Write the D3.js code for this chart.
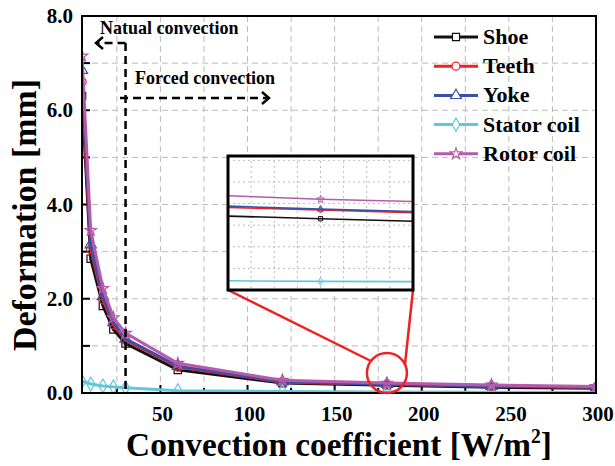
<!DOCTYPE html>
<html>
<head>
<meta charset="utf-8">
<script src="https://cdn.jsdelivr.net/npm/d3@7"></script>
<style>
  body { margin: 0; background: #fff; }
  text { font-family: "Liberation Serif", "Times New Roman", serif; font-weight: bold; }
</style>
</head>
<body>
<div id="chart"></div>
<script>
// convection coefficient [W/m2]
const hValues = [5, 10, 17, 23, 30, 60, 120, 180, 240, 300];
// deformation [mm]
const shoe   = [6.30, 2.85, 1.85, 1.35, 1.05, 0.49, 0.21, 0.165, 0.12, 0.10];
const teeth  = [6.60, 3.05, 1.98, 1.45, 1.12, 0.55, 0.23, 0.185, 0.14, 0.12];
const yoke   = [6.85, 3.15, 2.05, 1.50, 1.15, 0.57, 0.24, 0.187, 0.145, 0.12];
const stator = [0.25, 0.19, 0.15, 0.13, 0.11, 0.05, 0.03, 0.02, 0.015, 0.012];
const rotor  = [7.15, 3.45, 2.22, 1.60, 1.27, 0.63, 0.27, 0.21, 0.17, 0.14];

const seriesNames = ['Shoe', 'Teeth', 'Yoke', 'Stator coil', 'Rotor coil'];
const xTicks = [50, 100, 150, 200, 250, 300];
const yTickLabels = ['0.0', '2.0', '4.0', '6.0', '8.0'];

const series = [
  {name: seriesNames[0], values: shoe,   color: '#111111', symbol: d3.symbolSquare},
  {name: seriesNames[1], values: teeth,  color: '#ee2222', symbol: d3.symbolCircle},
  {name: seriesNames[2], values: yoke,   color: '#3a4fa8', symbol: d3.symbolTriangle},
  {name: seriesNames[3], values: stator, color: '#62c6dc', symbol: d3.symbolDiamond},
  {name: seriesNames[4], values: rotor,  color: '#b85aac', symbol: d3.symbolStar}
];

const W = 615, H = 466;
const svg = d3.select('#chart').append('svg').attr('width', W).attr('height', H);

const mLeft = 82, mRight = 596, mTop = 16, mBottom = 393;
const x = d3.scaleLinear().domain([5, 300]).range([mLeft, mRight]);
const y = d3.scaleLinear().domain([0, 8]).range([mBottom, mTop]);

// squeeze a text horizontally (in its own frame) to a given length
function fitText(sel, target) {
  const w = sel.node().getBBox().width;
  const g = sel.node().parentNode;
  d3.select(g).attr('transform', d3.select(g).attr('transform') + ` scale(${target / w},1)`);
}

// grid
const grid = svg.append('g');
grid.selectAll('.gx').data(d3.range(25, 300, 25)).join('line')
  .attr('x1', d => x(d)).attr('x2', d => x(d)).attr('y1', mTop).attr('y2', mBottom)
  .attr('stroke', '#bbb').attr('stroke-width', 1).attr('stroke-dasharray', '6,4');
grid.selectAll('.gy').data(d3.range(1, 8, 1)).join('line')
  .attr('x1', mLeft).attr('x2', mRight).attr('y1', d => y(d)).attr('y2', d => y(d))
  .attr('stroke', '#bbb').attr('stroke-width', 1).attr('stroke-dasharray', '6,4');

// ticks (inward)
svg.append('g').selectAll('line').data(d3.range(25, 300, 25)).join('line')
  .attr('x1', d => x(d)).attr('x2', d => x(d)).attr('y1', mBottom).attr('y2', d => mBottom - (d % 50 === 0 ? 8 : 5))
  .attr('stroke', '#000').attr('stroke-width', 2);
svg.append('g').selectAll('line').data(d3.range(1, 8, 1)).join('line')
  .attr('x1', mLeft).attr('x2', mLeft + 8).attr('y1', d => y(d)).attr('y2', d => y(d))
  .attr('stroke', '#000').attr('stroke-width', 2);

// tick labels
svg.append('g').selectAll('text').data(xTicks).join('text')
  .attr('x', d => x(d) + 2).attr('y', mBottom + 28)
  .attr('text-anchor', 'middle').attr('font-size', 21).text(d => d);
svg.append('g').selectAll('text').data(yTickLabels).join('text')
  .attr('x', 73).attr('y', d => y(+d) + 7)
  .attr('text-anchor', 'end').attr('font-size', 21).text(d => d);

// axis titles
const yg = svg.append('g').attr('transform', 'translate(36,215) rotate(-90)');
const yt = yg.append('text').attr('text-anchor', 'middle').attr('font-size', 33)
  .text('Deformation [mm]');
fitText(yt, 272);
const xg = svg.append('g').attr('transform', 'translate(339,456)');
const xt = xg.append('text').attr('text-anchor', 'middle').attr('font-size', 34);
xt.append('tspan').text('Convection coefficient [W/m');
xt.append('tspan').attr('dy', -13).attr('font-size', 20).text('2');
xt.append('tspan').attr('dy', 13).text(']');
fitText(xt, 426);

// data lines
const line = d3.line().x((d, i) => x(hValues[i])).y(d => y(d));
const plot = svg.append('g');
plot.append('defs').append('clipPath').attr('id', 'clipMain')
  .append('rect').attr('x', mLeft).attr('y', mTop).attr('width', mRight - mLeft).attr('height', mBottom - mTop);
const pg = plot.append('g').attr('clip-path', 'url(#clipMain)');
series.forEach(s => {
  pg.append('path').datum(s.values).attr('d', line)
    .attr('fill', 'none').attr('stroke', s.color).attr('stroke-width', 3);
  pg.append('g').selectAll('path').data(s.values).join('path')
    .attr('transform', (d, i) => `translate(${x(hValues[i])},${y(d)})`)
    .attr('d', d3.symbol().type(s.symbol).size(s.symbol === d3.symbolStar ? 40 : 55))
    .attr('fill', 'none').attr('stroke', s.color).attr('stroke-width', 1.2);
});

// frame
svg.append('rect').attr('x', mLeft).attr('y', mTop).attr('width', mRight - mLeft).attr('height', mBottom - mTop)
  .attr('fill', 'none').attr('stroke', '#000').attr('stroke-width', 2);

// convection annotations
const xb = x(30);
const dash = '8,5';
svg.append('line').attr('x1', xb).attr('x2', xb).attr('y1', 43).attr('y2', mBottom)
  .attr('stroke', '#000').attr('stroke-width', 2.5).attr('stroke-dasharray', dash);
svg.append('line').attr('x1', xb).attr('x2', 96).attr('y1', 43).attr('y2', 43)
  .attr('stroke', '#000').attr('stroke-width', 2.5).attr('stroke-dasharray', dash);
svg.append('path').attr('d', 'M103,37 L96,43 L103,49')
  .attr('fill', 'none').attr('stroke', '#000').attr('stroke-width', 2.5);
svg.append('line').attr('x1', 120).attr('x2', 269).attr('y1', 98).attr('y2', 98)
  .attr('stroke', '#000').attr('stroke-width', 2.5).attr('stroke-dasharray', dash);
svg.append('path').attr('d', 'M262,92 L269,98 L262,104')
  .attr('fill', 'none').attr('stroke', '#000').attr('stroke-width', 2.5);
svg.append('text').attr('x', 100).attr('y', 34).attr('font-size', 18).text('Natual convection');
svg.append('text').attr('x', 135).attr('y', 84).attr('font-size', 18).text('Forced convection');

// legend
const lg = svg.append('g');
series.forEach((s, i) => {
  const ly = 37 + i * 29.2;
  lg.append('line').attr('x1', 434).attr('x2', 478).attr('y1', ly).attr('y2', ly)
    .attr('stroke', s.color).attr('stroke-width', 3);
  lg.append('path').attr('transform', `translate(456,${ly})`)
    .attr('d', d3.symbol().type(s.symbol).size(s.symbol === d3.symbolStar ? 40 : 50))
    .attr('fill', '#fff').attr('stroke', s.color).attr('stroke-width', 1.2);
  lg.append('text').attr('x', 483).attr('y', ly + 7).attr('font-size', 22).text(s.name);
});

// zoom circle and connectors
const cx = x(180), cy = 373;
svg.append('circle').attr('cx', cx).attr('cy', cy).attr('r', 20)
  .attr('fill', 'none').attr('stroke', '#ee2222').attr('stroke-width', 2.5);
const ix0 = 228, ix1 = 413, iy0 = 156, iy1 = 290;
svg.append('line').attr('x1', ix0).attr('y1', iy1).attr('x2', cx - 16).attr('y2', cy - 12)
  .attr('stroke', '#ee2222').attr('stroke-width', 2.5);
svg.append('line').attr('x1', ix1).attr('y1', iy1).attr('x2', cx + 18).attr('y2', cy - 8)
  .attr('stroke', '#ee2222').attr('stroke-width', 2.5);

// inset
const xi = d3.scaleLinear().domain([172, 188]).range([ix0, ix1]);
const yi = d3.scaleLinear().domain([0, 0.31]).range([iy1, iy0]);
const inset = svg.append('g');
inset.append('rect').attr('x', ix0).attr('y', iy0).attr('width', ix1 - ix0).attr('height', iy1 - iy0)
  .attr('fill', '#fff');
inset.append('defs').append('clipPath').attr('id', 'clipInset')
  .append('rect').attr('x', ix0).attr('y', iy0).attr('width', ix1 - ix0).attr('height', iy1 - iy0);
const ig = inset.append('g').attr('clip-path', 'url(#clipInset)');
ig.selectAll('.vx').data(d3.range(174, 188, 2)).join('line')
  .attr('x1', d => xi(d)).attr('x2', d => xi(d)).attr('y1', iy0).attr('y2', iy1)
  .attr('stroke', '#bbb').attr('stroke-width', 1).attr('stroke-dasharray', '2,3');
ig.selectAll('.vy').data(d3.range(0.05, 0.31, 0.05)).join('line')
  .attr('x1', ix0).attr('x2', ix1).attr('y1', d => yi(d)).attr('y2', d => yi(d))
  .attr('stroke', '#bbb').attr('stroke-width', 1).attr('stroke-dasharray', '2,3');
const iline = d3.line().x((d, i) => xi(hValues[i])).y(d => yi(d));
series.forEach(s => {
  ig.append('path').datum(s.values).attr('d', iline)
    .attr('fill', 'none').attr('stroke', s.color).attr('stroke-width', 1.6);
  const k = hValues.indexOf(180);
  ig.append('path').attr('transform', `translate(${xi(180)},${yi(s.values[k])})`)
    .attr('d', d3.symbol().type(s.symbol).size(18))
    .attr('fill', 'none').attr('stroke', s.color).attr('stroke-width', 1);
});
inset.append('rect').attr('x', ix0).attr('y', iy0).attr('width', ix1 - ix0).attr('height', iy1 - iy0)
  .attr('fill', 'none').attr('stroke', '#000').attr('stroke-width', 3);
</script>
</body>
</html>
